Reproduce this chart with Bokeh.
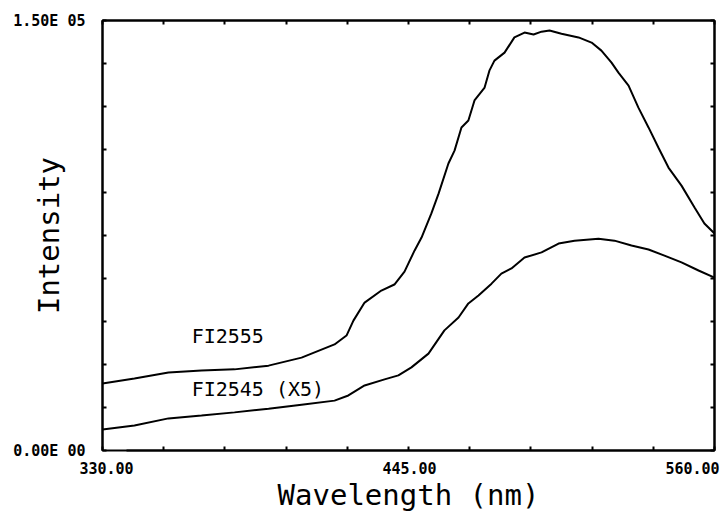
from bokeh.plotting import figure
from bokeh.models import Range1d, FixedTicker, LinearAxis
from bokeh.core.properties import value
from bokeh.embed import file_html
from bokeh.resources import INLINE

# ---- data ----
wl_fi2555 = [330.0, 342.0, 354.8, 367.2, 379.6, 392.4, 404.8, 417.2, 421.7, 424.3,
             428.5, 434.8, 439.7, 443.5, 447.3, 449.9, 453.6, 456.3, 460.0, 462.3,
             464.9, 467.5, 469.8, 473.6, 475.4, 477.3, 481.1, 484.8, 488.6, 492.0,
             495.0, 498.0, 502.5, 508.9, 513.8, 517.5, 521.3, 523.9, 527.7, 531.4,
             535.2, 538.9, 542.7, 547.6, 552.5, 556.2, 560.0]
int_fi2555 = [23400, 25100, 27200, 27900, 28300, 29600, 32400, 37000, 40100, 45300,
              51600, 55800, 57900, 62400, 69800, 74300, 82700, 89600, 100100, 104600,
              112700, 115100, 122100, 126600, 132500, 136000, 138800, 144100, 145800, 145100,
              146100, 146500, 145400, 144100, 142300, 139500, 135300, 131800, 127300, 119600,
              112700, 105700, 98700, 92400, 84800, 79200, 75700]

wl_fi2545 = [330.0, 342.0, 354.8, 367.2, 379.6, 392.4, 404.8, 417.2, 422.4, 428.5,
             436.0, 441.2, 446.1, 452.5, 458.5, 463.8, 467.5, 471.3, 476.2, 479.9,
             483.7, 488.6, 495.0, 501.4, 507.4, 516.4, 522.4, 528.8, 535.2, 541.2,
             547.6, 554.0, 560.0]
int_fi2545 = [7300, 8700, 11200, 12200, 13300, 14600, 16000, 17400, 19200, 22700,
              24800, 26200, 29000, 33800, 41900, 46400, 51300, 54100, 58200, 61700,
              63500, 67300, 69100, 72200, 73200, 73900, 73200, 71500, 70100, 68000,
              65600, 62800, 60300]

series_names = ["FI2555", "FI2545 (X5)"]
x_major = [330, 445, 560]
x_minor = [330 + 23 * i for i in range(11)]
x_tick_labels = ["330.00", "445.00", "560.00"]
y_major = [0, 150000]
y_minor = [15000 * i for i in range(11)]
y_tick_labels = ["0.00E 00", "1.50E 05"]

MONO = "DejaVu Sans Mono"
W, H = 722, 515
FL, FR, FT, FB = 102, 8, 20, 65          # frame borders in pixels
px_per_nm = (W - FL - FR) / (560 - 330)

p = figure(width=W, height=H, output_backend="svg", toolbar_location=None,
           x_range=Range1d(330, 560), y_range=Range1d(0, 150000),
           min_border_left=FL, min_border_right=FR, min_border_top=FT,
           min_border_bottom=FB, x_axis_location=None, y_axis_location=None)
p.xgrid.visible = False
p.ygrid.visible = False
p.outline_line_color = "black"
p.outline_line_width = 2


def style_axis(ax, ticks, minor):
    ax.ticker = FixedTicker(ticks=ticks, minor_ticks=minor)
    ax.axis_line_color = "black"
    ax.axis_line_width = 2
    ax.major_tick_in = 0
    ax.major_tick_out = 0
    ax.minor_tick_in = 4
    ax.minor_tick_out = 0
    ax.minor_tick_line_width = 2
    ax.minor_tick_line_color = "black"
    ax.major_label_text_font = MONO
    ax.major_label_text_font_style = "bold"
    ax.major_label_text_font_size = "15px"
    ax.major_label_text_color = "black"


# left axis: tick labels + axis title
left = LinearAxis()
style_axis(left, y_major, y_minor)
left.major_label_overrides = dict(zip(y_major, y_tick_labels))
left.major_label_standoff = 17
left.axis_label = "Intensity"
left.axis_label_text_font = MONO
left.axis_label_text_font_style = "normal"
left.axis_label_text_font_size = "29px"
left.axis_label_text_color = "black"
left.axis_label_standoff = -56
p.add_layout(left, "left")

# bottom axis: labels sit slightly off their ticks, as in the reference
label_shift_px = [4, 1, -22]
x_label_pos = [x + s / px_per_nm for x, s in zip(x_major, label_shift_px)]
bottom = LinearAxis()
style_axis(bottom, x_label_pos, x_minor)
bottom.bounds = (330 + 24 / px_per_nm, 560)
bottom.major_label_overrides = dict(zip(x_label_pos, x_tick_labels))
bottom.major_label_standoff = 11
bottom.axis_label = "Wavelength (nm)"
bottom.axis_label_text_font = MONO
bottom.axis_label_text_font_style = "normal"
bottom.axis_label_text_font_size = "29px"
bottom.axis_label_text_color = "black"
bottom.axis_label_standoff = 1
p.add_layout(bottom, "below")

# right and top frame edges with ticks only
right = LinearAxis()
style_axis(right, [], y_minor)
p.add_layout(right, "right")
top = LinearAxis()
style_axis(top, [], x_minor)
p.add_layout(top, "above")

# curves
p.line(wl_fi2555, int_fi2555, line_color="black", line_width=2)
p.line(wl_fi2545, int_fi2545, line_color="black", line_width=2)

# series annotations
p.text(x=[363.5, 363.5], y=[39800, 21600], text=series_names,
       text_font=value(MONO), text_font_size="20px", text_color="black",
       text_align="left", text_baseline="middle")

open("out.html", "w").write(file_html(p, INLINE))
